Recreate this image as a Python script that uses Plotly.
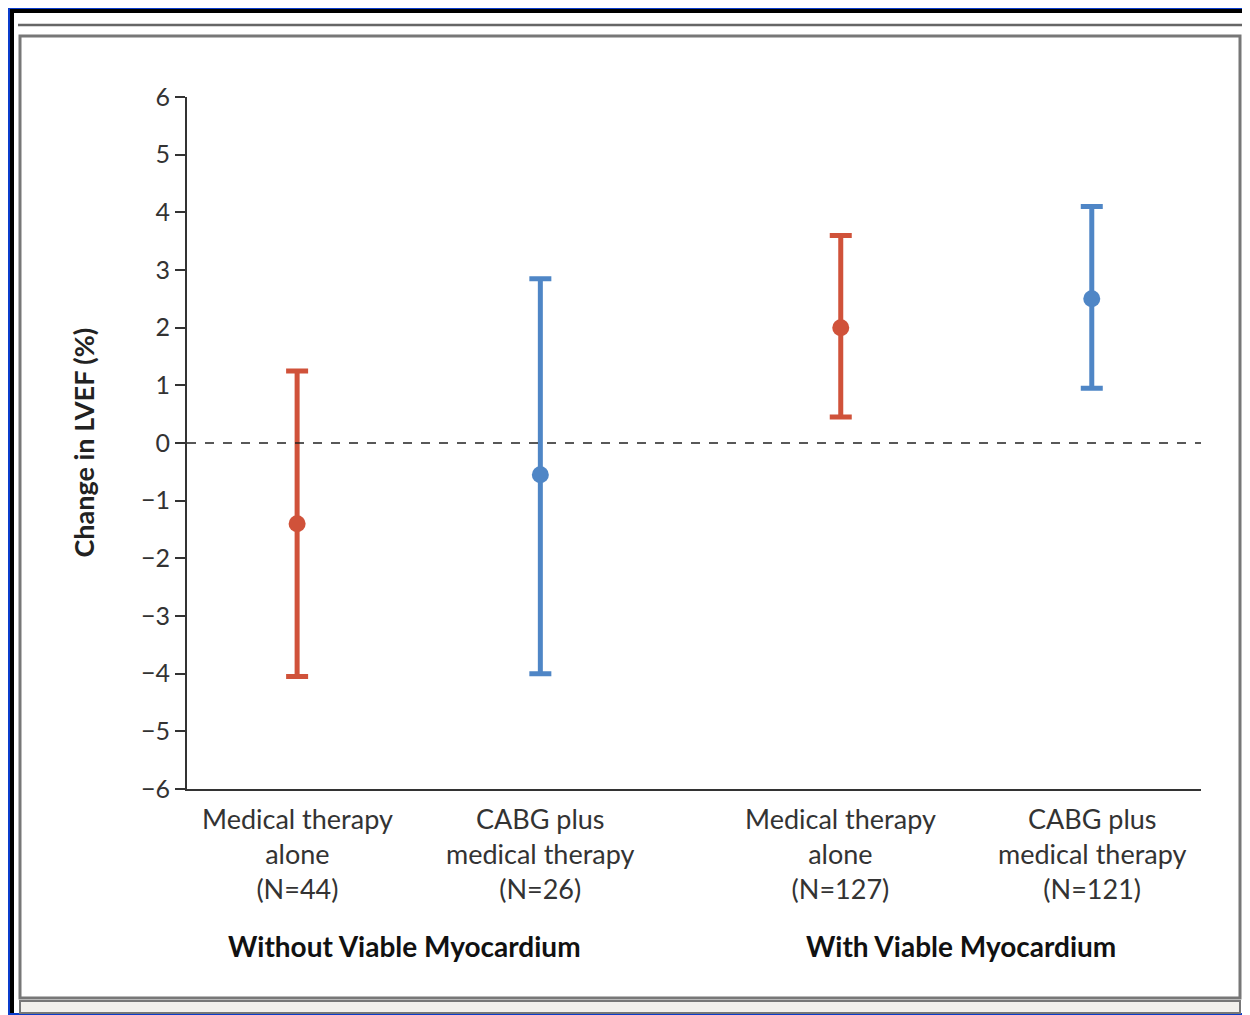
import plotly.graph_objects as go

labels = ["Medical therapy<br>alone<br>(N=44)", "CABG plus<br>medical therapy<br>(N=26)",
          "Medical therapy<br>alone<br>(N=127)", "CABG plus<br>medical therapy<br>(N=121)"]
xpos = [0, 1, 2.235, 3.267]
means = [-1.4, -0.55, 2.0, 2.5]
lows = [-4.05, -4.0, 0.45, 0.95]
highs = [1.25, 2.85, 3.6, 4.1]
colors = ["#d0523a", "#4f86c6", "#d0523a", "#4f86c6"]
groups = ["Without Viable Myocardium", "With Viable Myocardium"]
yticks = list(range(-6, 7))

OFF = 8
W, H = 1250, 1015
L, R, T, B = 187 - OFF, 50 - OFF + 15, 97 - OFF, 226 + OFF
pw, ph = W - L - R, H - T - B
def px(x): return (x - OFF - L) / pw
def py(y): return (H - B - (y - OFF)) / ph
def xd(p): return (p - 297) / 243.0

fig = go.Figure()
for i in range(4):
    fig.add_trace(go.Scatter(
        x=[xpos[i]], y=[means[i]], mode="markers",
        marker=dict(color=colors[i], size=17),
        error_y=dict(type="data", symmetric=False,
                     array=[highs[i] - means[i]], arrayminus=[means[i] - lows[i]],
                     color=colors[i], thickness=5, width=11),
        showlegend=False))

ann = []
for i in range(4):
    ann.append(dict(x=xpos[i], y=py(800), xref="x", yref="paper", text=labels[i],
                    showarrow=False, yanchor="top", align="center",
                    font=dict(size=27, family="Lato", color="#333")))
for g, cx in zip(groups, [404, 960]):
    ann.append(dict(x=xd(cx), y=py(927), xref="x", yref="paper", text="<b>" + g + "</b>",
                    showarrow=False, yanchor="top",
                    font=dict(size=28, family="Lato", color="#111")))
ann.append(dict(x=px(64), y=0.5, xref="paper", yref="paper", text="<b>Change in LVEF (%)</b>",
                textangle=-90, showarrow=False, font=dict(size=27, family="Lato", color="#222")))

shapes = [
    dict(type="line", xref="x", yref="y", x0=xd(187), x1=xd(1200), y0=0, y1=0,
         line=dict(color="#222", width=1.5, dash="dash")),
    dict(type="rect", xref="paper", yref="paper", x0=px(-20), x1=px(W + 20), y0=py(-20), y1=py(H + 20),
         line=dict(width=0), fillcolor="#0a3ccc", layer="below"),
    dict(type="rect", xref="paper", yref="paper", x0=px(10), x1=px(W - 2), y0=py(9), y1=py(H - 2),
         line=dict(width=0), fillcolor="#000", layer="below"),
    dict(type="rect", xref="paper", yref="paper", x0=px(14), x1=px(W - 2), y0=py(13), y1=py(H - 2),
         line=dict(width=0), fillcolor="#fff", layer="below"),
    dict(type="line", xref="paper", yref="paper", x0=px(18), x1=px(W), y0=py(25), y1=py(25),
         line=dict(color="#666", width=2.5)),
    dict(type="rect", xref="paper", yref="paper", x0=px(20), x1=px(1240), y0=py(36), y1=py(998),
         line=dict(color="#777", width=3)),
    dict(type="rect", xref="paper", yref="paper", x0=px(20), x1=px(1240), y0=py(1001), y1=py(H - 2),
         line=dict(color="#777", width=2), fillcolor="#f2f0ec"),
]

fig.update_layout(
    width=W, height=H, margin=dict(l=L, r=R, t=T, b=B),
    paper_bgcolor="#0a3ccc", plot_bgcolor="rgba(0,0,0,0)",
    xaxis=dict(range=[xd(187), xd(1200)], showticklabels=False, showgrid=False, zeroline=False,
               showline=True, linecolor="#333", linewidth=2, ticks=""),
    yaxis=dict(range=[-6, 6], tickvals=yticks, showgrid=False, zeroline=False,
               showline=True, linecolor="#333", linewidth=2, ticks="outside", ticklen=10,
               tickwidth=2, tickcolor="#333", tickfont=dict(size=25, family="Lato", color="#333")),
    annotations=ann, shapes=shapes,
)
fig.write_html("out.html")
